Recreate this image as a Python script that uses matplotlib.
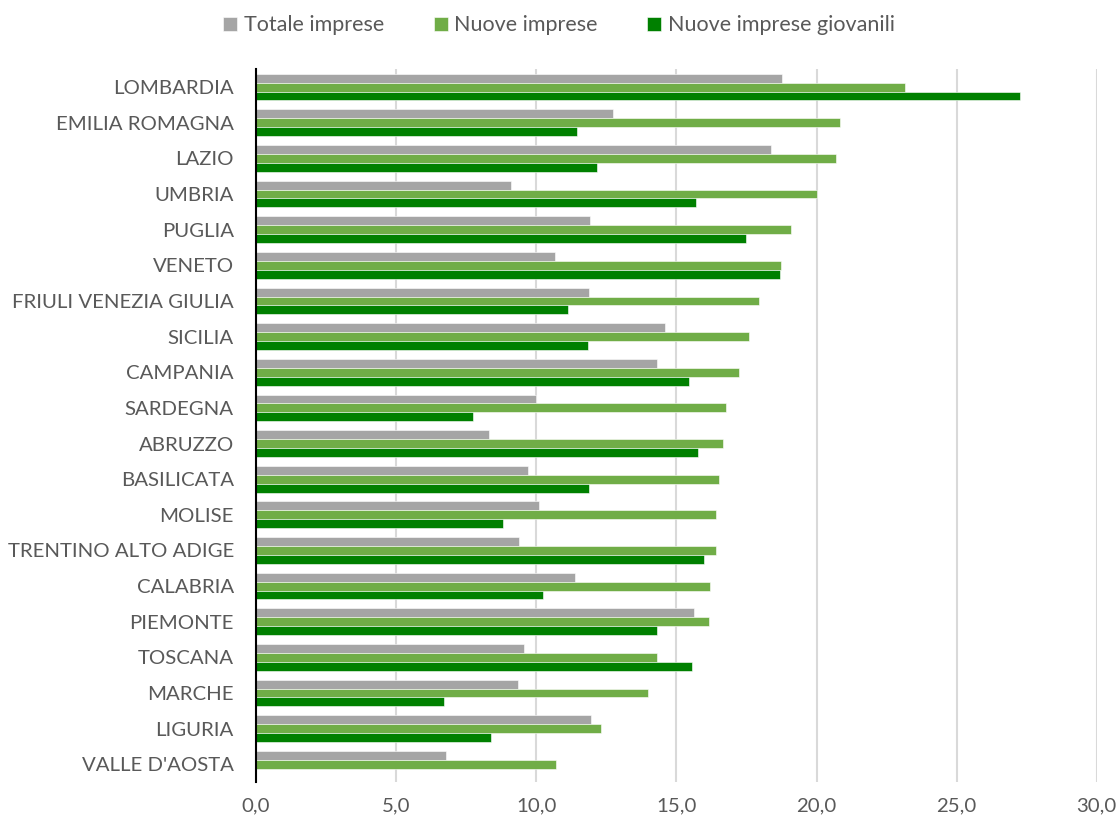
import numpy as np
import matplotlib
matplotlib.use("Agg")
import matplotlib.pyplot as plt
from matplotlib.ticker import FuncFormatter

regions = ["LOMBARDIA", "EMILIA ROMAGNA", "LAZIO", "UMBRIA", "PUGLIA", "VENETO",
           "FRIULI VENEZIA GIULIA", "SICILIA", "CAMPANIA", "SARDEGNA", "ABRUZZO",
           "BASILICATA", "MOLISE", "TRENTINO ALTO ADIGE", "CALABRIA", "PIEMONTE",
           "TOSCANA", "MARCHE", "LIGURIA", "VALLE D'AOSTA"]

totale = [18.78, 12.73, 18.37, 9.10, 11.91, 10.68, 11.88, 14.60, 14.30, 10.00,
          8.31, 9.69, 10.10, 9.40, 11.37, 15.64, 9.55, 9.36, 11.96, 6.78]
nuove = [23.16, 20.85, 20.71, 20.00, 19.08, 18.72, 17.93, 17.59, 17.25, 16.77,
         16.66, 16.53, 16.40, 16.40, 16.19, 16.15, 14.32, 14.00, 12.32, 10.72]
giovanili = [27.27, 11.47, 12.15, 15.69, 17.49, 18.71, 11.13, 11.85, 15.44, 7.73,
             15.78, 11.89, 8.81, 15.99, 10.24, 14.32, 15.55, 6.72, 8.40, 0.0]

series = [("Totale imprese", totale, "#a5a5a5"),
          ("Nuove imprese", nuove, "#70ad47"),
          ("Nuove imprese giovanili", giovanili, "#008000")]

plt.rcParams['font.family'] = ['Lato', 'DejaVu Sans']
text_col = "#595959"

fig = plt.figure(figsize=(11.18, 8.25), dpi=100)
ax = fig.add_axes([0.229, 0.052, 0.752, 0.864])

y = np.arange(len(regions))
h = 0.25
for i, (name, vals, col) in enumerate(series):
    ax.barh(y + (i - 1) * h, vals, height=h, color=col, label=name,
            edgecolor="white", linewidth=0.4, zorder=3)

ax.set_xlim(0, 30)
ax.set_ylim(len(regions) - 0.5, -0.5)
ax.set_xticks(np.arange(0, 31, 5))
ax.xaxis.set_major_formatter(FuncFormatter(lambda v, p: f"{v:.1f}".replace(".", ",")))
ax.set_yticks(y)
ax.set_yticklabels(regions)

ax.grid(axis="x", color="#d9d9d9", linewidth=1.5, zorder=0)
ax.set_axisbelow(True)
for s in ["top", "right", "bottom"]:
    ax.spines[s].set_visible(False)
ax.spines["left"].set_color("black")
ax.spines["left"].set_linewidth(1.5)
ax.spines["left"].set_zorder(4)

ax.tick_params(axis="both", length=0, labelsize=14.7, labelcolor=text_col)
ax.tick_params(axis="y", pad=16)
ax.tick_params(axis="x", pad=11)

fig.legend(loc="upper center", bbox_to_anchor=(0.5, 1.005), ncol=3, frameon=False,
           fontsize=15.5, labelcolor=text_col, handlelength=0.65, handleheight=0.65,
           handletextpad=0.3, columnspacing=2.3)

fig.savefig("out.png", dpi=100)
